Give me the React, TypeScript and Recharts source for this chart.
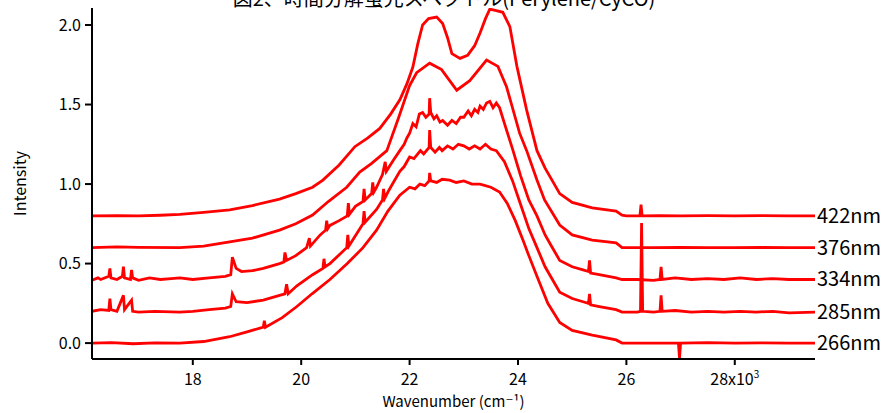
import React from 'react';
import { LineChart, Line, XAxis, YAxis } from 'recharts';

// wavenumber (x10^3 cm-1), intensity (offset per excitation)
const spec422: [number, number][] = [
  [16.14, 0.8], [16.6, 0.802], [17.0, 0.8], [17.4, 0.804], [17.76, 0.81], [18.2, 0.822],
  [18.68, 0.838], [19.1, 0.865], [19.6, 0.905], [19.9, 0.94], [20.21, 0.98], [20.4, 1.025],
  [20.7, 1.12], [20.99, 1.235], [21.23, 1.29], [21.45, 1.35], [21.65, 1.44], [21.82, 1.53],
  [21.95, 1.63], [22.06, 1.736], [22.15, 1.88], [22.24, 2.0], [22.35, 2.04], [22.5, 2.05],
  [22.61, 2.01], [22.7, 1.92], [22.78, 1.82], [22.93, 1.79], [23.07, 1.81], [23.2, 1.87],
  [23.3, 1.95], [23.4, 2.04], [23.48, 2.1], [23.6, 2.09], [23.72, 2.08], [23.85, 1.99],
  [23.98, 1.74], [24.16, 1.465], [24.35, 1.21], [24.5, 1.1], [24.77, 0.94], [25.0, 0.885],
  [25.37, 0.85], [25.81, 0.83], [25.92, 0.805], [26.0, 0.8], [26.25, 0.8], [26.27, 0.87],
  [26.29, 0.8], [26.6, 0.802], [27.0, 0.8], [27.5, 0.801], [28.0, 0.8], [28.5, 0.802],
  [29.0, 0.8], [29.48, 0.8],
];

const spec376: [number, number][] = [
  [16.14, 0.6], [16.6, 0.605], [17.0, 0.602], [17.76, 0.6], [18.2, 0.61], [18.68, 0.637],
  [19.1, 0.66], [19.6, 0.71], [19.9, 0.75], [20.21, 0.805], [20.5, 0.89], [20.84, 0.98],
  [21.08, 1.075], [21.3, 1.13], [21.58, 1.21], [21.8, 1.42], [22.0, 1.62], [22.13, 1.7],
  [22.37, 1.76], [22.59, 1.72], [22.87, 1.59], [23.11, 1.65], [23.42, 1.78], [23.63, 1.74],
  [23.79, 1.61], [24.03, 1.32], [24.16, 1.21], [24.35, 1.025], [24.49, 0.9], [24.77, 0.742],
  [25.0, 0.68], [25.37, 0.648], [25.81, 0.63], [25.92, 0.6], [26.5, 0.6], [27.0, 0.601],
  [27.5, 0.6], [28.0, 0.6], [28.5, 0.601], [29.0, 0.6], [29.48, 0.6],
];

const spec334: [number, number][] = [
  [16.14, 0.395], [16.25, 0.41], [16.3, 0.4], [16.45, 0.42], [16.47, 0.47], [16.49, 0.41],
  [16.6, 0.4], [16.7, 0.42], [16.72, 0.48], [16.74, 0.41], [16.85, 0.4], [16.87, 0.46],
  [16.89, 0.41], [17.0, 0.395], [17.2, 0.41], [17.4, 0.4], [17.6, 0.405], [17.76, 0.41],
  [18.0, 0.4], [18.3, 0.41], [18.6, 0.42], [18.7, 0.43], [18.73, 0.54], [18.8, 0.47],
  [18.9, 0.45], [19.1, 0.455], [19.3, 0.47], [19.6, 0.5], [19.68, 0.51], [19.7, 0.57],
  [19.73, 0.52], [19.9, 0.55], [20.1, 0.6], [20.15, 0.66], [20.17, 0.61], [20.35, 0.68],
  [20.45, 0.71], [20.47, 0.77], [20.49, 0.72], [20.53, 0.74], [20.7, 0.77], [20.85, 0.8],
  [20.87, 0.88], [20.89, 0.81], [21.0, 0.86], [21.14, 0.89], [21.16, 0.97], [21.18, 0.9],
  [21.3, 0.94], [21.32, 1.01], [21.34, 0.95], [21.39, 0.98], [21.5, 1.06], [21.55, 1.14],
  [21.57, 1.08], [21.7, 1.15], [21.82, 1.21], [21.9, 1.25], [21.95, 1.29], [22.0, 1.32],
  [22.06, 1.38], [22.12, 1.36], [22.18, 1.44], [22.24, 1.45], [22.3, 1.42], [22.36, 1.44],
  [22.37, 1.54], [22.39, 1.45], [22.45, 1.41], [22.5, 1.43], [22.56, 1.39], [22.61, 1.4],
  [22.7, 1.37], [22.78, 1.4], [22.86, 1.38], [22.94, 1.42], [23.0, 1.42], [23.08, 1.46],
  [23.14, 1.43], [23.2, 1.47], [23.26, 1.45], [23.3, 1.49], [23.36, 1.47], [23.42, 1.51],
  [23.48, 1.52], [23.54, 1.48], [23.6, 1.51], [23.66, 1.48], [23.77, 1.36], [23.9, 1.22],
  [24.05, 1.05], [24.2, 0.9], [24.35, 0.8], [24.5, 0.68], [24.6, 0.62], [24.77, 0.52],
  [25.0, 0.48], [25.2, 0.46], [25.3, 0.45], [25.32, 0.52], [25.34, 0.44], [25.5, 0.43],
  [25.81, 0.41], [25.92, 0.4], [26.2, 0.4], [26.5, 0.395], [26.62, 0.4], [26.64, 0.48],
  [26.66, 0.4], [26.9, 0.41], [27.2, 0.4], [27.5, 0.405], [27.8, 0.4], [28.1, 0.41],
  [28.4, 0.4], [28.7, 0.405], [29.0, 0.4], [29.48, 0.4],
];

const spec285: [number, number][] = [
  [16.14, 0.2], [16.3, 0.21], [16.45, 0.205], [16.47, 0.28], [16.49, 0.21], [16.6, 0.2],
  [16.72, 0.3], [16.74, 0.21], [16.87, 0.27], [16.89, 0.2], [17.0, 0.195], [17.3, 0.2],
  [17.76, 0.195], [18.0, 0.2], [18.3, 0.21], [18.6, 0.22], [18.7, 0.23], [18.73, 0.31],
  [18.8, 0.26], [19.0, 0.255], [19.3, 0.27], [19.6, 0.3], [19.7, 0.31], [19.73, 0.37],
  [19.76, 0.31], [19.92, 0.36], [20.21, 0.43], [20.4, 0.47], [20.42, 0.53], [20.44, 0.48],
  [20.53, 0.5], [20.84, 0.6], [20.86, 0.68], [20.88, 0.61], [21.14, 0.75], [21.16, 0.83],
  [21.18, 0.76], [21.39, 0.84], [21.5, 0.9], [21.52, 0.97], [21.54, 0.91], [21.6, 0.95],
  [21.7, 1.01], [21.82, 1.08], [21.9, 1.11], [22.0, 1.17], [22.08, 1.16], [22.2, 1.21],
  [22.26, 1.19], [22.36, 1.23], [22.37, 1.34], [22.39, 1.23], [22.47, 1.2], [22.55, 1.23],
  [22.6, 1.21], [22.7, 1.24], [22.8, 1.22], [22.9, 1.25], [23.0, 1.24], [23.1, 1.22],
  [23.2, 1.24], [23.3, 1.22], [23.4, 1.25], [23.5, 1.22], [23.6, 1.21], [23.75, 1.14],
  [23.9, 1.02], [24.05, 0.87], [24.2, 0.72], [24.35, 0.6], [24.5, 0.48], [24.6, 0.42],
  [24.77, 0.32], [25.0, 0.28], [25.2, 0.26], [25.3, 0.25], [25.32, 0.31], [25.34, 0.24],
  [25.5, 0.23], [25.81, 0.21], [25.92, 0.195], [26.2, 0.195], [26.26, 0.2], [26.28, 0.755],
  [26.3, 0.2], [26.5, 0.195], [26.62, 0.2], [26.64, 0.3], [26.66, 0.2], [26.9, 0.205],
  [27.2, 0.195], [27.5, 0.2], [27.8, 0.195], [28.1, 0.2], [28.4, 0.195], [28.7, 0.2],
  [29.0, 0.19], [29.48, 0.195],
];

const spec266: [number, number][] = [
  [16.14, 0.0], [16.5, 0.003], [16.9, -0.004], [17.3, 0.002], [17.76, 0.0], [18.2, 0.01],
  [18.68, 0.04], [19.0, 0.07], [19.3, 0.1], [19.32, 0.14], [19.34, 0.1], [19.65, 0.16],
  [19.92, 0.23], [20.2, 0.31], [20.53, 0.4], [20.85, 0.5], [21.14, 0.6], [21.39, 0.71],
  [21.6, 0.83], [21.82, 0.93], [22.0, 0.98], [22.1, 0.97], [22.19, 1.0], [22.28, 0.99],
  [22.36, 1.02], [22.37, 1.07], [22.39, 1.02], [22.5, 1.01], [22.6, 1.03], [22.74, 1.025],
  [22.86, 1.01], [23.0, 1.02], [23.15, 1.0], [23.3, 1.0], [23.5, 0.98], [23.66, 0.95],
  [23.8, 0.88], [23.95, 0.77], [24.1, 0.64], [24.2, 0.55], [24.35, 0.42], [24.55, 0.25],
  [24.77, 0.13], [25.0, 0.08], [25.37, 0.05], [25.81, 0.02], [25.92, 0.0], [26.5, 0.0],
  [26.96, 0.0], [26.98, -0.095], [27.0, 0.0], [27.5, 0.003], [28.0, 0.0], [28.5, 0.002],
  [29.0, 0.0], [29.48, 0.0],
];

const seriesNames = ['422nm', '376nm', '334nm', '285nm', '266nm'];
const seriesData = [spec422, spec376, spec334, spec285, spec266];
const xTicks = [18, 20, 22, 24, 26, 28];
const yTicks = [0, 0.5, 1.0, 1.5, 2.0];

const FONT = '"Noto Sans CJK JP", "DejaVu Sans", sans-serif';
const RED = '#ff0000';

const XTick = (props: any) => {
  const { x, y, payload } = props;
  const v = payload.value;
  return (
    <text x={x} y={y + 18} textAnchor="middle" fontSize={16} fontFamily={FONT} fill="#000">
      {v === 28 ? (
        <>
          28x10<tspan dy={-7} fontSize={10}>3</tspan>
        </>
      ) : (
        v
      )}
    </text>
  );
};

const endLabel = (name: string, count: number) => (props: any) => {
  const { x, y, index } = props;
  if (index !== count - 1) return null;
  return (
    <text key={name} x={x + 2} y={y} dy={7} fontSize={20} fontFamily={FONT} fill="#000">
      {name}
    </text>
  );
};

export default function App() {
  const lines = seriesData.map((s) => s.map(([x, y]) => ({ x, y })));
  return (
    <div style={{ position: 'absolute', left: 0, top: 0, width: 882, height: 413, background: '#fff' }}>
      <LineChart
        width={882}
        height={413}
        margin={{ top: 8, right: 67, left: 32, bottom: 14 }}
      >
        <text x={444} y={6} textAnchor="middle" fontSize={20} fontFamily={FONT} fill="#000">
          図2、時間分解蛍光スペクトル(Perylene/CyCO)
        </text>
        <XAxis
          type="number"
          dataKey="x"
          domain={[16.14, 29.48]}
          allowDataOverflow
          ticks={xTicks}
          tick={<XTick />}
          tickSize={6}
          height={40}
          axisLine={{ stroke: '#000', strokeWidth: 2 }}
          tickLine={{ stroke: '#000', strokeWidth: 2 }}
          label={{
            value: 'Wavenumber (cm⁻¹)',
            position: 'insideBottom',
            offset: -8,
            fontSize: 15,
            fontFamily: FONT,
            fill: '#000',
          }}
        />
        <YAxis
          type="number"
          domain={[-0.1, 2.107]}
          allowDataOverflow
          ticks={yTicks}
          tickFormatter={(v: number) => v.toFixed(1)}
          tickSize={7}
          tickMargin={4}
          width={60}
          tick={{ fontSize: 16, fontFamily: FONT, fill: '#000' }}
          axisLine={{ stroke: '#000', strokeWidth: 2 }}
          tickLine={{ stroke: '#000', strokeWidth: 2 }}
          label={{
            value: 'Intensity',
            angle: -90,
            position: 'insideLeft',
            offset: -12,
            style: { textAnchor: 'middle' },
            fontSize: 16,
            fontFamily: FONT,
            fill: '#000',
          }}
        />
        {lines.map((d, i) => (
          <Line
            key={seriesNames[i]}
            data={d}
            dataKey="y"
            type="linear"
            stroke={RED}
            strokeWidth={2.8}
            dot={false}
            isAnimationActive={false}
            label={endLabel(seriesNames[i], d.length)}
          />
        ))}
      </LineChart>
    </div>
  );
}
